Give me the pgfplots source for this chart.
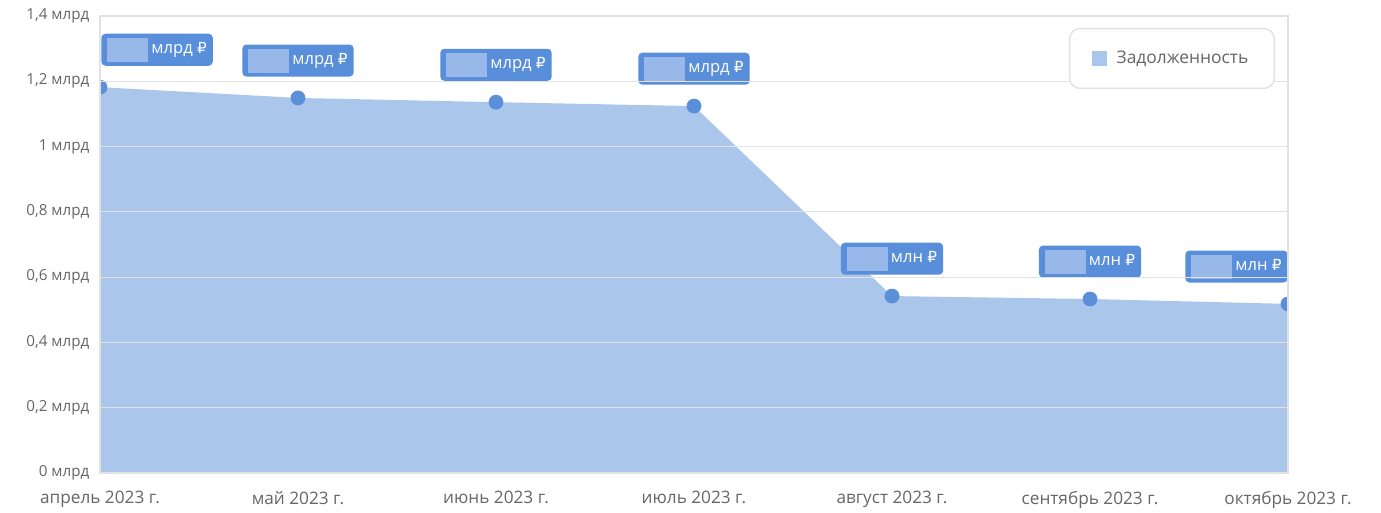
\documentclass[border=0pt]{standalone}
\usepackage{fontspec}
\setmainfont{Open Sans}
\newfontfamily\rubfont{DejaVu Sans}[Scale=0.92]
\usepackage{pgfplots}
\usepackage{pgfplotstable}
\pgfplotsset{compat=1.18}

\definecolor{areafill}{RGB}{171,198,235}
\definecolor{pointblue}{RGB}{91,143,217}
\definecolor{boxblue}{RGB}{88,142,218}
\definecolor{blurblue}{RGB}{152,184,233}
\definecolor{labelgray}{RGB}{102,102,102}
\definecolor{gridgray}{RGB}{226,226,226}

% debt by month (values hidden in the source)
\pgfplotstableread{
x y unit
0 1.182 млрд
1 1.149 млрд
2 1.136 млрд
3 1.124 млрд
4 0.542 млн
5 0.533 млн
6 0.518 млн
}\debt

\newcommand{\lbl}{\textcolor{blurblue}{\rule[-4pt]{20.5pt}{12pt}}\hspace{1.5pt}\pgfplotspointmeta\ {\rubfont ₽}\hspace{4.5pt}}

\begin{document}
\begin{tikzpicture}
\begin{axis}[
    name=ax,
    scale only axis,
    width=594pt, height=228.5pt,
    xmin=0, xmax=6,
    ymin=0, ymax=1.4,
    xtick={0,1,2,3,4,5,6},
    xticklabels={апрель 2023 г., май 2023 г., июнь 2023 г., июль 2023 г., август 2023 г., сентябрь 2023 г., октябрь 2023 г.},
    ytick={0,0.2,0.4,0.6,0.8,1,1.2,1.4},
    yticklabel={\pgfmathprintnumber{\tick}~млрд},
    /pgf/number format/.cd, use comma, fixed, precision=1, assume math mode=true,
    /pgfplots/.cd,
    major tick length=0pt,
    tick style={draw=none},
    tick label style={text=labelgray},
    xticklabel style={font=\fontsize{8.6}{10.3}\selectfont, yshift=-5.5pt},
    yticklabel style={font=\fontsize{7.6}{9.1}\selectfont, xshift=-1.8pt},
    ymajorgrids,
    grid style={gridgray, line width=0.6pt},
    axis line style={gridgray, line width=0.6pt},
    axis on top,
    clip marker paths=true,
    legend style={at={(1,1)}, anchor=north east, xshift=-6.5pt, yshift=-6pt,
        draw=gridgray, line width=0.7pt, rounded corners=5pt, fill=white,
        font=\fontsize{8.7}{10.4}\selectfont, text=labelgray,
        inner xsep=11pt, inner ysep=9pt},
    legend cell align=left,
    every node near coord/.style={fill=boxblue, text=white, rounded corners=2pt,
        font=\fontsize{8.3}{10}\selectfont, inner xsep=3pt, inner ysep=4pt,
        text height=6pt, text depth=2pt, yshift=10.5pt},
]
\addplot[fill=areafill, draw=none, area legend,
    legend image code/.code={\fill[areafill, sharp corners] (0pt,-3.6pt) rectangle (7.5pt,3.8pt);
        \path (0pt,0pt) -- (10.5pt,0pt);}]
    table[x=x, y=y] {\debt} \closedcycle;
\addlegendentry{Задолженность}

\addplot[only marks, mark=*, mark size=3.5pt, color=pointblue,
    mark options={draw=pointblue, fill=pointblue}]
    table[x=x, y=y] {\debt};

% value labels
\addplot[draw=none, mark=none, point meta=explicit symbolic,
    restrict x to domain=-0.5:0.5,
    nodes near coords={\lbl},
    nodes near coords style={anchor=south west, xshift=0.5pt}]
    table[x=x, y=y, meta=unit] {\debt};
\addplot[draw=none, mark=none, point meta=explicit symbolic,
    restrict x to domain=0.5:5.5,
    nodes near coords={\lbl},
    nodes near coords style={anchor=south}]
    table[x=x, y=y, meta=unit] {\debt};
\addplot[draw=none, mark=none, point meta=explicit symbolic,
    restrict x to domain=5.5:6.5,
    nodes near coords={\lbl},
    nodes near coords style={anchor=south east}]
    table[x=x, y=y, meta=unit] {\debt};
\end{axis}
\pgfresetboundingbox
\path[use as bounding box] ([shift={(-50pt,-19.5pt)}]ax.south west) rectangle ([shift={(46.5pt,8pt)}]ax.north east);
\end{tikzpicture}
\end{document}
